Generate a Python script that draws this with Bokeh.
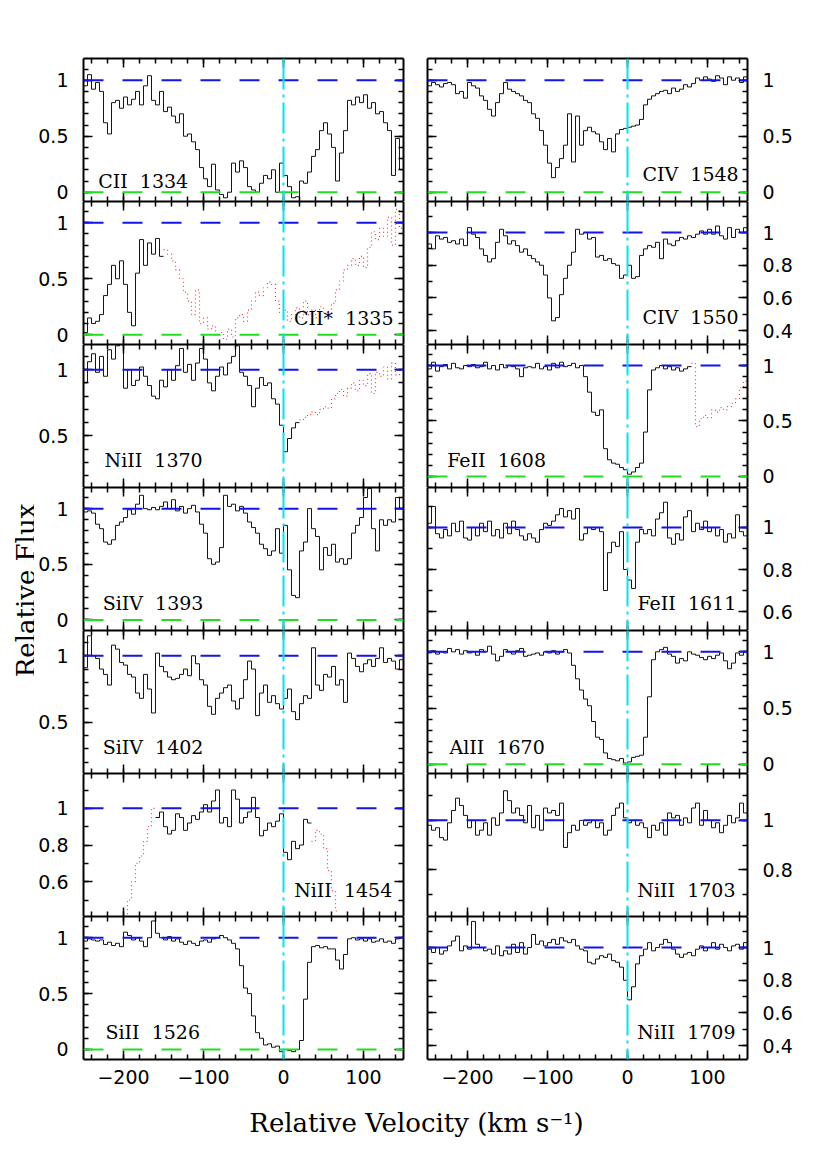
from bokeh.plotting import figure
from bokeh.models import Range1d, LinearAxis, FixedTicker, CustomJSTickFormatter, Span
from bokeh.layouts import gridplot, row, column
from bokeh.core.properties import value
from bokeh.embed import file_html
from bokeh.resources import INLINE

# ---------------- data ----------------
BIN = 5  # km/s bin width
VELOCITY = list(range(-250, 150, BIN))  # bin start velocities

CII_1334 = [0.95, 1.05, 0.92, 0.98, 0.90, 0.62, 0.52, 0.80, 0.82, 0.75,
            0.85, 0.78, 0.83, 0.90, 0.78, 0.95, 1.04, 0.82, 0.78, 0.90,
            0.72, 0.76, 0.68, 0.62, 0.70, 0.50, 0.52, 0.45, 0.38, 0.22,
            0.12, 0.05, 0.25, 0.02, -0.02, -0.05, 0.00, 0.26, 0.18, 0.28,
            0.22, 0.05, 0.02, 0.00, 0.08, 0.15, 0.12, 0.20, 0.00, 0.26,
            0.15, 0.05, -0.05, -0.04, 0.10, 0.08, 0.18, 0.32, 0.38, 0.55,
            0.62, 0.52, 0.40, 0.10, 0.35, 0.55, 0.82, 0.78, 0.85, 0.80,
            0.87, 0.75, 0.80, 0.70, 0.72, 0.62, 0.55, 0.15, 0.48, 0.20]
CIIs_1335 = [0.02, 0.15, 0.10, 0.12, 0.18, 0.35, 0.45, 0.62, 0.50, 0.66,
             0.45, 0.20, 0.08, 0.55, 0.85, 0.62, 0.82, 0.72, 0.86, 0.70,
             0.76, 0.72, 0.66, 0.58, 0.50, 0.38, 0.30, 0.18, 0.40, 0.10,
             0.15, 0.05, 0.08, 0.00, 0.02, -0.04, 0.05, -0.02, 0.15, 0.18,
             0.12, 0.22, 0.30, 0.38, 0.35, 0.42, 0.47, 0.45, 0.30, 0.20,
             0.22, 0.12, 0.18, 0.24, 0.15, 0.30, 0.18, 0.22, 0.15, 0.25,
             0.20, 0.18, 0.28, 0.40, 0.48, 0.58, 0.62, 0.68, 0.62, 0.70,
             0.60, 0.78, 0.92, 0.85, 0.95, 0.88, 1.05, 0.80, 1.12, 0.95]
NiII_1370 = [0.90, 1.06, 1.12, 0.98, 1.10, 0.95, 1.15, 1.08, 1.18, 1.19,
             0.86, 1.00, 0.88, 0.92, 1.02, 0.95, 0.88, 0.80, 0.78, 0.92,
             0.87, 1.00, 0.92, 1.03, 1.16, 0.98, 1.04, 0.92, 1.05, 1.16,
             1.08, 0.90, 0.84, 0.95, 1.02, 0.96, 1.05, 1.10, 1.18, 0.98,
             0.95, 0.88, 0.72, 0.86, 0.94, 0.88, 0.90, 0.78, 0.74, 0.58,
             0.38, 0.48, 0.56, 0.60, 0.62, 0.64, 0.66, 0.68, 0.66, 0.70,
             0.72, 0.71, 0.78, 0.82, 0.85, 0.80, 0.86, 0.90, 0.84, 0.92,
             0.88, 0.97, 0.82, 0.98, 0.95, 1.02, 0.93, 1.05, 0.96, 1.00]
SiIV_1393 = [0.97, 0.98, 0.96, 0.86, 0.82, 0.70, 0.68, 0.72, 0.85, 0.88,
             0.92, 0.99, 0.95, 1.04, 1.12, 1.00, 0.99, 1.01, 0.99, 1.02,
             1.06, 1.00, 1.08, 0.98, 1.02, 0.96, 1.00, 1.03, 0.97, 0.86,
             0.78, 0.55, 0.50, 0.52, 0.65, 1.12, 1.02, 1.04, 0.98, 1.02,
             0.96, 0.88, 0.83, 0.78, 0.68, 0.64, 0.58, 0.62, 0.82, 0.60,
             0.85, 0.45, 0.22, 0.20, 0.62, 0.70, 1.00, 0.82, 0.75, 0.45,
             0.65, 0.58, 0.68, 0.52, 0.55, 0.50, 0.55, 0.78, 0.85, 0.92,
             1.10, 1.18, 0.82, 0.62, 0.90, 0.85, 0.90, 0.88, 1.10, 1.00]
SiIV_1402 = [0.91, 1.15, 1.00, 0.98, 0.90, 0.86, 0.78, 1.08, 1.05, 0.95,
             0.93, 0.86, 0.84, 0.72, 0.68, 0.86, 0.75, 0.57, 1.02, 0.92,
             0.88, 0.84, 0.82, 0.83, 0.86, 0.90, 0.85, 1.00, 0.94, 0.82,
             0.78, 0.62, 0.56, 0.68, 0.72, 0.76, 0.78, 0.66, 0.60, 0.68,
             0.82, 0.96, 0.90, 0.55, 0.72, 0.78, 0.65, 0.70, 0.64, 0.60,
             0.68, 0.75, 0.58, 0.52, 0.64, 0.70, 0.68, 1.06, 0.78, 0.74,
             0.86, 0.84, 0.92, 0.78, 0.82, 0.65, 1.02, 0.98, 0.92, 0.88,
             0.94, 0.97, 0.92, 0.98, 1.06, 0.95, 0.98, 0.96, 0.90, 0.97]
NiII_1454 = [None] * 10 + [
             0.40, 0.50, 0.60, 0.70, 0.74, 0.82, 0.90, 1.00, 0.95, 0.98,
             0.90, 0.86, 0.88, 0.97, 0.95, 0.88, 0.92, 0.96, 0.94, 0.98,
             1.02, 0.98, 1.04, 1.10, 0.92, 0.95, 0.90, 1.10, 1.05, 0.92,
             0.95, 0.98, 1.06, 0.95, 0.85, 0.88, 0.92, 0.90, 0.93, 0.97,
             0.76, 0.72, 0.82, 0.78, 0.80, 0.94, 0.92, 0.82, 0.88, 0.86,
             0.78, 0.66, 0.55, 0.44] + [None] * 16
SiII_1526 = [0.97, 0.99, 0.98, 0.97, 0.98, 0.94, 0.96, 0.93, 0.95, 0.92,
             1.05, 1.02, 0.98, 1.00, 0.97, 0.92, 1.00, 1.15, 1.04, 1.00,
             0.98, 1.01, 0.97, 0.99, 0.96, 0.94, 0.97, 0.95, 0.93, 0.97,
             0.98, 0.96, 0.99, 1.00, 1.02, 1.00, 0.98, 0.95, 0.90, 0.75,
             0.55, 0.50, 0.30, 0.15, 0.10, 0.04, 0.05, 0.02, 0.03, -0.02,
             0.00, -0.01, -0.02, 0.00, 0.08, 0.45, 0.78, 0.92, 0.93, 0.91,
             0.92, 0.90, 0.90, 0.80, 0.72, 0.85, 0.99, 1.00, 0.98, 0.99,
             0.97, 0.99, 0.96, 0.97, 0.99, 0.96, 0.97, 0.95, 0.99, 1.00]
CIV_1548 = [0.95, 0.98, 0.96, 0.94, 0.97, 0.98, 0.96, 0.88, 0.90, 0.84,
            0.98, 0.95, 0.93, 0.86, 0.82, 0.74, 0.68, 0.80, 0.88, 0.98,
            0.92, 0.90, 0.88, 0.86, 0.82, 0.80, 0.70, 0.66, 0.55, 0.42,
            0.26, 0.13, 0.22, 0.30, 0.42, 0.70, 0.27, 0.68, 0.42, 0.55,
            0.58, 0.54, 0.52, 0.45, 0.38, 0.48, 0.36, 0.52, 0.56, 0.57,
            0.58, 0.59, 0.60, 0.65, 0.78, 0.83, 0.86, 0.88, 0.90, 0.91,
            0.88, 0.93, 0.90, 0.92, 0.96, 0.94, 0.97, 1.02, 1.00, 1.03,
            1.01, 0.99, 1.04, 1.02, 0.96, 1.03, 1.00, 1.02, 0.98, 1.03]
CIV_1550 = [0.93, 0.90, 0.98, 0.96, 0.97, 0.94, 0.95, 0.93, 0.96, 0.92,
            1.03, 0.99, 0.97, 0.90, 0.86, 0.82, 0.84, 0.94, 1.02, 0.98,
            0.93, 0.95, 0.92, 0.88, 0.90, 0.86, 0.84, 0.82, 0.80, 0.74,
            0.60, 0.46, 0.48, 0.62, 0.72, 0.80, 0.88, 1.02, 0.99, 1.00,
            0.96, 0.97, 0.85, 0.86, 0.83, 0.84, 0.81, 0.80, 0.72, 0.74,
            0.80, 0.72, 0.73, 0.86, 0.90, 0.92, 0.91, 0.94, 0.84, 0.96,
            0.93, 0.92, 0.95, 0.97, 0.96, 0.98, 0.97, 0.99, 1.01, 0.99,
            1.02, 0.99, 1.04, 0.98, 0.96, 1.03, 0.97, 1.02, 1.00, 1.03]
FeII_1608 = [0.97, 1.03, 0.95, 0.99, 1.01, 0.97, 1.02, 0.98, 0.97, 1.00,
             0.99, 1.01, 0.98, 0.99, 1.03, 0.97, 1.00, 0.96, 1.01, 0.98,
             1.00, 0.99, 0.97, 0.90, 0.98, 0.99, 0.98, 1.02, 0.97, 0.99,
             0.96, 1.02, 0.98, 1.03, 0.99, 1.00, 1.02, 0.98, 1.00, 0.90,
             0.76, 0.58, 0.55, 0.60, 0.25, 0.15, 0.12, 0.11, 0.08, 0.06,
             0.02, 0.04, 0.08, 0.12, 0.40, 0.78, 0.96, 0.98, 1.00, 0.97,
             0.99, 0.96, 0.98, 0.95, 0.97, 0.99, 1.02, 0.45, 0.52, 0.55,
             0.53, 0.60, 0.58, 0.62, 0.60, 0.63, 0.66, 0.70, 0.80, 0.86]
FeII_1611 = [1.02, 1.10, 0.97, 0.95, 0.99, 0.96, 1.02, 0.98, 1.03, 0.95,
             0.94, 1.00, 0.96, 1.02, 0.98, 1.03, 0.96, 0.99, 0.95, 1.02,
             0.97, 1.03, 0.99, 0.96, 0.94, 0.97, 0.95, 0.93, 0.99, 1.02,
             1.01, 1.03, 1.06, 1.09, 1.05, 1.08, 1.04, 1.09, 0.94, 0.97,
             1.00, 0.99, 1.00, 0.98, 0.70, 0.88, 0.93, 0.91, 0.98, 0.80,
             0.75, 0.71, 0.93, 0.99, 0.97, 0.99, 0.96, 1.04, 1.07, 1.12,
             0.95, 0.92, 0.97, 0.94, 1.05, 1.08, 0.98, 1.02, 0.99, 1.03,
             0.98, 1.00, 0.96, 0.99, 0.93, 0.97, 0.95, 1.06, 0.98, 0.96]
AlII_1670 = [0.99, 1.01, 0.98, 1.00, 0.99, 1.03, 1.00, 1.02, 0.98, 1.01,
             0.99, 1.00, 0.97, 1.02, 1.00, 1.05, 0.98, 0.92, 0.96, 1.02,
             1.00, 0.98, 1.01, 1.03, 0.96, 0.97, 0.98, 0.99, 0.97, 1.00,
             0.99, 1.01, 0.98, 1.00, 1.02, 0.99, 0.88, 0.76, 0.66, 0.58,
             0.52, 0.38, 0.24, 0.22, 0.10, 0.05, 0.04, 0.03, 0.05, 0.01,
             0.02, 0.06, 0.07, 0.08, 0.24, 0.60, 0.93, 1.00, 1.02, 1.04,
             0.98, 0.96, 0.90, 0.94, 0.92, 1.00, 0.98, 0.97, 0.95, 0.93,
             0.96, 0.94, 0.97, 0.99, 0.92, 0.85, 0.90, 0.99, 0.97, 1.00]
NiII_1703 = [0.98, 0.96, 0.97, 0.93, 0.92, 0.99, 1.04, 1.09, 1.06, 1.02,
             0.97, 1.00, 0.94, 0.96, 0.99, 0.94, 1.01, 0.98, 1.03, 1.12,
             1.08, 1.03, 1.05, 1.02, 0.99, 1.06, 0.97, 1.02, 0.96, 1.05,
             1.03, 1.04, 1.02, 1.07, 0.89, 0.95, 0.98, 0.96, 1.00, 0.98,
             0.99, 1.00, 0.97, 0.99, 0.94, 0.96, 1.02, 1.05, 1.07, 1.01,
             0.99, 1.00, 0.98, 0.99, 0.97, 0.93, 0.98, 0.96, 0.99, 0.94,
             1.03, 1.01, 1.02, 0.98, 1.01, 0.99, 1.05, 1.07, 0.98, 1.04,
             1.00, 0.97, 0.99, 0.95, 0.98, 1.02, 0.99, 1.01, 1.07, 1.03]
NiII_1709 = [0.99, 0.97, 1.00, 0.96, 0.98, 1.01, 1.04, 1.07, 0.98, 1.01,
             0.99, 1.16, 1.02, 1.00, 0.98, 0.99, 0.96, 1.01, 0.95, 0.98,
             0.96, 1.02, 0.97, 1.03, 0.96, 1.00, 1.08, 1.02, 1.04, 1.01,
             1.03, 1.05, 1.02, 1.06, 1.04, 1.03, 1.05, 1.01, 0.99, 0.98,
             0.91, 0.90, 0.93, 0.95, 0.94, 0.96, 0.92, 0.91, 0.88, 0.80,
             0.68, 0.76, 0.90, 0.95, 0.99, 1.03, 0.98, 1.00, 1.02, 1.05,
             1.03, 0.99, 0.96, 0.94, 0.96, 0.97, 0.95, 0.99, 1.01, 0.98,
             1.00, 1.03, 0.99, 1.02, 1.00, 0.98, 1.01, 1.02, 0.99, 1.03]

IONS_LEFT = ["CII", "CII*", "NiII", "SiIV", "SiIV", "NiII", "SiII"]
WAVES_LEFT = [1334, 1335, 1370, 1393, 1402, 1454, 1526]
FLUX_LEFT = [CII_1334, CIIs_1335, NiII_1370, SiIV_1393, SiIV_1402, NiII_1454, SiII_1526]
IONS_RIGHT = ["CIV", "CIV", "FeII", "FeII", "AlII", "NiII", "NiII"]
WAVES_RIGHT = [1548, 1550, 1608, 1611, 1670, 1703, 1709]
FLUX_RIGHT = [CIV_1548, CIV_1550, FeII_1608, FeII_1611, AlII_1670, NiII_1703, NiII_1709]

# velocity intervals of each spectrum: (from, to, kind) ; kind "blend" = dotted red
SEG_LEFT = [
    [(-250, 150, "main")],
    [(-250, -150, "main"), (-150, 150, "blend")],
    [(-250, 20, "main"), (20, 150, "blend")],
    [(-250, 150, "main")],
    [(-250, 150, "main")],
    [(-200, -160, "blend"), (-160, 35, "main"), (35, 70, "blend")],
    [(-250, 150, "main")],
]
SEG_RIGHT = [
    [(-250, 150, "main")],
    [(-250, 150, "main")],
    [(-250, 80, "main"), (80, 150, "blend")],
    [(-250, 150, "main")],
    [(-250, 150, "main")],
    [(-250, 150, "main")],
    [(-250, 150, "main")],
]

YMIN_LEFT = [-0.083, -0.087, 0.11, -0.095, 0.115, 0.41, -0.09]
YMIN_RIGHT = [-0.083, 0.315, -0.10, 0.51, -0.083, 0.61, 0.315]
YMAX = [1.194, 1.19, 1.19, 1.19, 1.19, 1.19, 1.19]
YTICKS_LEFT = [[0, 0.5, 1], [0, 0.5, 1], [0.5, 1], [0, 0.5, 1], [0.5, 1], [0.6, 0.8, 1], [0, 0.5, 1]]
YTICKS_RIGHT = [[0, 0.5, 1], [0.4, 0.6, 0.8, 1], [0, 0.5, 1], [0.6, 0.8, 1], [0, 0.5, 1], [0.8, 1], [0.4, 0.6, 0.8, 1]]
XTICKS = [-200, -100, 0, 100]

# ---------------- layout / style ----------------
XMIN, XMAX = -250, 150
FRAME_W, FRAME_H = 320, 143
YLAB_W = 34
TOP_BORDER = 58
BOTTOM_BORDER = 36
# label placement: (align, velocity x, pixels above panel bottom)
LABEL_POS_LEFT = [("left", -231.6, 21), ("right", 137.5, 27), ("left", -223.7, 28), ("left", -226, 28),
                  ("left", -226, 27), ("right", 136, 27), ("left", -222.5, 28)]
LABEL_POS_RIGHT = [("right", 139, 28), ("right", 139, 28), ("left", -225.4, 28), ("right", 136, 28),
                   ("left", -222.5, 27), ("right", 135, 27), ("right", 135, 28)]

TICK_FONT = "DejaVu Sans"
SERIF = "DejaVu Serif"
BLUE = "#1414e6"
GREEN = "#22dd22"
CYAN = "#00e5ee"
RED = "#ff3333"
SPEC = "#151515"

xticker = FixedTicker(ticks=XTICKS, minor_ticks=list(range(-240, 160, 20)))
xfmt = CustomJSTickFormatter(code="return tick < 0 ? '\u2212' + String(-tick) : String(tick);")
yfmt = CustomJSTickFormatter(code="return String(Math.round(tick * 100) / 100);")
YMINOR = [round(-0.1 + 0.1 * i, 2) for i in range(14)]


def style_axis(ax, show, standoff):
    ax.axis_line_width = 2
    ax.axis_line_color = "black"
    ax.major_tick_in = 9
    ax.major_tick_out = 0
    ax.minor_tick_in = 5
    ax.minor_tick_out = 0
    ax.major_tick_line_width = 1.5
    ax.minor_tick_line_width = 1.5
    ax.major_tick_line_color = "black"
    ax.minor_tick_line_color = "black"
    if show:
        ax.major_label_text_font = TICK_FONT
        ax.major_label_text_font_size = "19px"
        ax.major_label_text_color = "black"
        ax.major_label_standoff = standoff
    else:
        ax.major_label_text_color = None
        ax.major_label_text_font_size = "0px"
        ax.major_label_standoff = 0


def step_xy(flux, lo, hi):
    xs, ys = [], []
    for v, f in zip(VELOCITY, flux):
        if f is None or v < lo or v >= hi:
            continue
        xs.append(v)
        ys.append(f)
    if xs:
        xs.append(xs[-1] + BIN)
        ys.append(ys[-1])
    return xs, ys


def make_panel(r, left_col, ion, wave, flux, segs, ymin, ymax, yt, lab):
    top = r == 0
    bottom = r == 6
    p = figure(frame_width=FRAME_W, frame_height=FRAME_H,
               x_range=Range1d(XMIN, XMAX), y_range=Range1d(ymin, ymax),
               output_backend="svg", toolbar_location=None,
               x_axis_location=None, y_axis_location=None,
               min_border_left=49 if left_col else 12,
               min_border_right=12 if left_col else 75,
               min_border_top=TOP_BORDER if top else 0,
               min_border_bottom=BOTTOM_BORDER if bottom else 0)
    p.outline_line_color = None
    p.background_fill_color = "white"
    p.border_fill_color = "white"
    p.grid.visible = False
    yticker = FixedTicker(ticks=yt, minor_ticks=YMINOR)
    for side in ("below", "above"):
        ax = LinearAxis(ticker=xticker, formatter=xfmt)
        style_axis(ax, side == "below" and bottom, 10)
        p.add_layout(ax, side)
    for side in ("left", "right"):
        ax = LinearAxis(ticker=yticker, formatter=yfmt)
        style_axis(ax, (side == "left") == left_col, 15)
        p.add_layout(ax, side)

    for lo, hi, kind in segs:
        xs, ys = step_xy(flux, lo, hi)
        if kind == "main":
            p.step(xs, ys, mode="after", line_color=SPEC, line_width=1)
        else:
            p.step(xs, ys, mode="after", line_color=RED, line_width=1.2, line_dash="1 3")

    p.add_layout(Span(location=1, dimension="width", line_color=BLUE, line_width=2, line_dash="20 19"))
    if ymin < 0:
        p.add_layout(Span(location=0, dimension="width", line_color=GREEN, line_width=2, line_dash="20 19"))
    p.add_layout(Span(location=0, dimension="height", line_color=CYAN, line_width=2, line_dash="31 5 3 5"))

    align, xv, off = lab
    yv = ymin + off * (ymax - ymin) / FRAME_H
    p.text(x=[xv], y=[yv], text=[ion + "\u00a0\u00a0" + str(wave)],
           text_font=value(SERIF), text_font_size="19px", text_align=align,
           text_baseline="alphabetic", text_color="black")
    return p


rows = []
for r in range(7):
    pl = make_panel(r, True, IONS_LEFT[r], WAVES_LEFT[r], FLUX_LEFT[r], SEG_LEFT[r],
                    YMIN_LEFT[r], YMAX[r], YTICKS_LEFT[r], LABEL_POS_LEFT[r])
    pr = make_panel(r, False, IONS_RIGHT[r], WAVES_RIGHT[r], FLUX_RIGHT[r], SEG_RIGHT[r],
                    YMIN_RIGHT[r], YMAX[r], YTICKS_RIGHT[r], LABEL_POS_RIGHT[r])
    rows.append([pl, pr])

grid = gridplot(rows, toolbar_location=None)

GRID_W = (49 + FRAME_W + 12) + (12 + FRAME_W + 75)
GRID_H = (TOP_BORDER + FRAME_H) + 5 * FRAME_H + (FRAME_H + BOTTOM_BORDER)
XLAB_H = 50
TOTAL_H = GRID_H + XLAB_H

xl = figure(width=GRID_W, height=XLAB_H, x_range=Range1d(0, GRID_W), y_range=Range1d(0, XLAB_H),
            output_backend="svg", toolbar_location=None, x_axis_location=None, y_axis_location=None,
            min_border=0)
xl.outline_line_color = None
xl.grid.visible = False
xl.text(x=[416 - YLAB_W], y=[XLAB_H - 27], text=["Relative Velocity (km s\u207b\u00b9)"],
        text_font=value(SERIF), text_font_size="26px", text_align="center",
        text_baseline="alphabetic", text_color="black")

yl = figure(width=YLAB_W, height=TOTAL_H, x_range=Range1d(0, YLAB_W), y_range=Range1d(0, TOTAL_H),
            output_backend="svg", toolbar_location=None, x_axis_location=None, y_axis_location=None,
            min_border=0)
yl.outline_line_color = None
yl.grid.visible = False
yl.text(x=[25], y=[TOTAL_H - 590], text=["Relative Flux"], angle=1.5707963,
        text_font=value(SERIF), text_font_size="26px", text_align="center",
        text_baseline="alphabetic", text_color="black")

layout = row(yl, column(grid, xl))

open("out.html", "w", encoding="utf-8").write(file_html(layout, INLINE))
